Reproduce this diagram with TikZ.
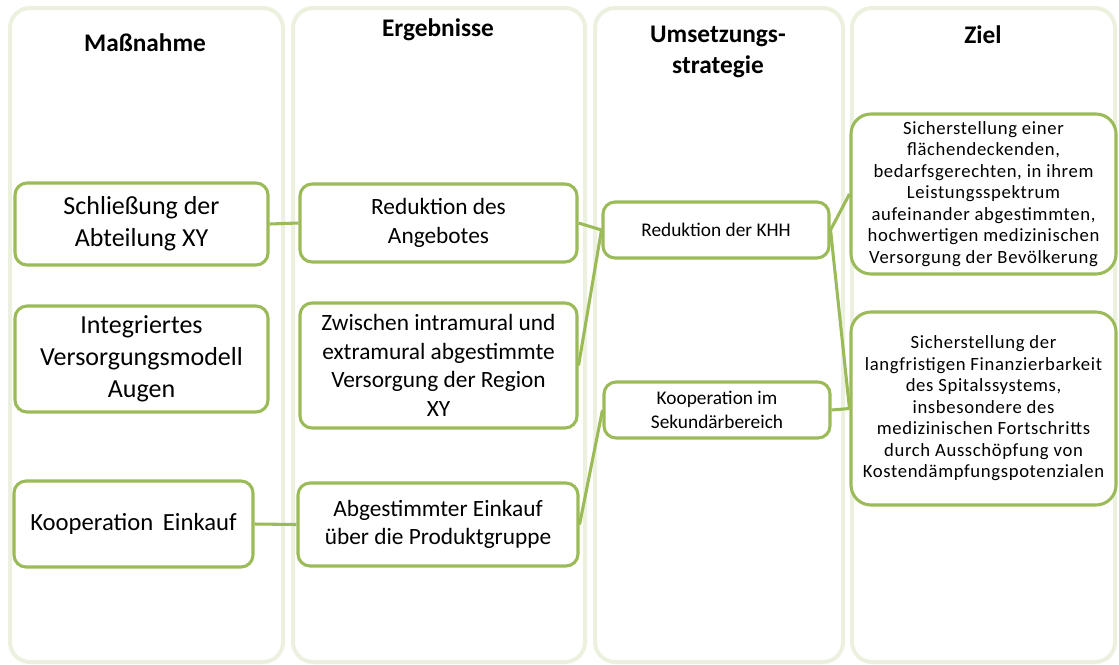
\documentclass[tikz,border=0pt]{standalone}
\usepackage{fontspec}
\setmainfont{Carlito}
\definecolor{colframe}{HTML}{EBF1DE}
\definecolor{boxgreen}{HTML}{9BBB59}
\begin{document}
\begin{tikzpicture}[x=0.75pt,y=-0.75pt,
  column/.style={draw=colframe, line width=3pt, rounded corners=15pt},
  box/.style={draw=boxgreen, line width=2.3pt, rounded corners=9pt, align=center, inner sep=0pt, fill=white},
  zbox/.style={box, rounded corners=15pt},
  head/.style={align=center, font=\fontsize{19}{23}\selectfont\bfseries},
  fA/.style={font=\fontsize{19.5}{24}\selectfont},
  fB/.style={font=\fontsize{17.5}{21.4}\selectfont},
  fC/.style={font=\fontsize{14.5}{18}\selectfont},
  fD/.style={font=\fontsize{14}{16.1}\selectfont\addfontfeature{LetterSpace=3.5}},
  link/.style={draw=boxgreen, line width=2.3pt}]
\useasboundingbox (0,0) rectangle (1119,664);
% columns
\draw[column] (10,8) rectangle (283,662);
\draw[column] (293,8) rectangle (585,662);
\draw[column] (595,8) rectangle (843,662);
\draw[column] (852,8) rectangle (1115,662);
% headers
\node[head] (h1) at (145,43) {Maßnahme};
\node[head] (h2) at (438,30) {Ergebnisse};
\node[head] (h3) at (718,52) {Umsetzungs-\\strategie};
\node[head] (h4) at (983,35) {Ziel};
% column 1
\node[box, fA, minimum width=189.75pt, minimum height=61.5pt] (s1) at (141.5,224) {Schließung der\\Abteilung XY};
\node[box, fA, minimum width=189.75pt, minimum height=79.5pt] (s2) at (141.5,359) {Integriertes\\Versorgungsmodell\\Augen};
\node[box, fA, minimum width=179.25pt, minimum height=64.5pt, font=\fontsize{18.5}{24}\selectfont] (s3) at (133.5,524) {Kooperation\, Einkauf};
% column 2
\node[box, fB, minimum width=207.75pt, minimum height=58.5pt] (e1) at (438.5,223) {Reduktion des\\Angebotes};
\node[box, fB, minimum width=207.75pt, minimum height=93.75pt] (e2) at (438.5,365.5) {Zwischen intramural und\\extramural abgestimmte\\Versorgung der Region\\XY};
\node[box, fB, minimum width=210pt, minimum height=62.25pt] (e3) at (438,524.5) {Abgestimmter Einkauf\\über die Produktgruppe};
% column 3
\node[box, fC, minimum width=169.5pt, minimum height=42pt] (u1) at (716,230) {Reduktion der KHH};
\node[box, fC, minimum width=169.5pt, minimum height=42pt] (u2) at (717,410) {Kooperation im\\Sekundärbereich};
% column 4
\node[zbox, fD, minimum width=198.75pt, minimum height=120pt] (z1) at (983.5,194) {Sicherstellung einer\\flächendeckenden,\\bedarfsgerechten, in ihrem\\Leistungsspektrum\\aufeinander abgestimmten,\\hochwertigen medizinischen\\Versorgung der Bevölkerung};
\node[zbox, fD, minimum width=198.75pt, minimum height=144.75pt] (z2) at (983.5,408.5) {Sicherstellung der\\langfristigen Finanzierbarkeit\\des Spitalssystems,\\insbesondere des\\medizinischen Fortschritts\\durch Ausschöpfung von\\Kostendämpfungspotenzialen};
% connectors
\draw[link] (s1.east) -- (e1.west);
\draw[link] (s3.east) -- (e3.west);
\draw[link] (e1.east) -- (u1.west);
\draw[link] (e2.east) -- (u1.west);
\draw[link] (e3.east) -- (u2.west);
\draw[link] (u1.east) -- (z1.west);
\draw[link] (u1.east) -- (z2.west);
\draw[link] (u2.east) -- (z2.west);
\end{tikzpicture}
\end{document}
